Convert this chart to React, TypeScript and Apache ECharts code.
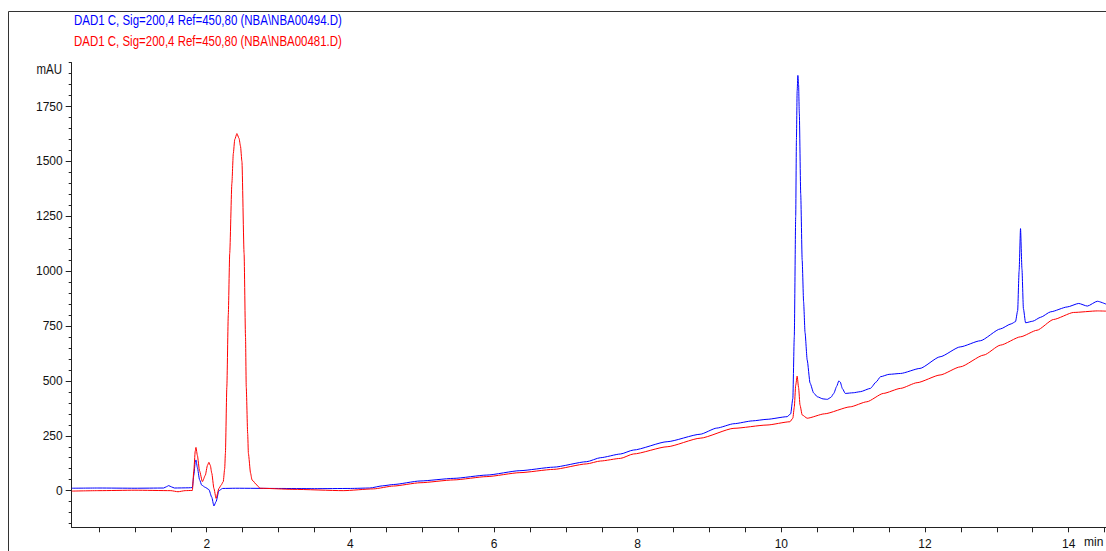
import React, { useEffect, useRef } from "react";
import * as echarts from "echarts";

// Chromatogram traces: [retention time (min), signal (mAU)]
const blueTrace: [number, number][] = [
  [0.12, 11], [0.5, 12], [1.0, 11], [1.4, 12], [1.44, 18], [1.47, 23], [1.51, 17], [1.55, 12], [1.75, 13], [1.8, 14],
  [1.82, 70], [1.84, 130], [1.85, 140], [1.87, 105], [1.9, 50], [1.93, 25], [1.98, 15], [2.03, 5], [2.07, -30],
  [2.1, -70], [2.13, -50], [2.17, 0], [2.22, 10], [2.4, 11], [3.0, 10], [3.5, 9], [4.0, 10],
  [4.27, 12], [4.45, 22], [4.6, 28], [4.97, 44], [5.44, 56], [5.9, 71], [6.36, 91], [6.83, 107],
  [7.29, 132], [7.48, 150], [7.76, 167], [7.94, 185], [8.41, 223], [8.87, 257], [9.1, 285],
  [9.34, 305], [9.6, 318], [9.8, 325], [10.08, 337], [10.13, 350], [10.16, 420], [10.18, 700], [10.2, 1250], [10.21, 1600],
  [10.22, 1820], [10.23, 1892], [10.24, 1850], [10.25, 1720], [10.27, 1350], [10.29, 1050], [10.31, 860], [10.33, 720],
  [10.36, 595], [10.4, 490], [10.45, 445], [10.5, 428], [10.58, 418], [10.64, 416], [10.69, 425], [10.73, 443], [10.77, 475],
  [10.8, 500], [10.82, 495], [10.85, 465], [10.89, 443], [11.0, 446],
  [11.1, 451], [11.24, 466], [11.32, 495], [11.38, 519], [11.5, 530], [11.66, 534], [11.93, 557], [12.21, 610],
  [12.49, 655], [12.77, 683], [13.05, 737], [13.2, 760], [13.26, 770], [13.29, 820], [13.31, 1000], [13.33, 1194],
  [13.35, 1010], [13.37, 830], [13.4, 765], [13.5, 772], [13.61, 790], [13.75, 815], [13.98, 837], [14.14, 853], [14.26, 841], [14.4, 863],
  [14.52, 850],
];

const redTrace: [number, number][] = [
  [0.12, -2], [0.5, 0], [1.0, 2], [1.5, 0], [1.6, -5], [1.7, 0], [1.8, 1], [1.82, 90], [1.84, 180],
  [1.85, 197], [1.87, 160], [1.9, 90], [1.94, 41], [1.98, 70], [2.01, 115], [2.03, 129], [2.05, 115], [2.07, 80], [2.1, 10],
  [2.13, -35], [2.17, 10], [2.2, 25], [2.23, 41], [2.25, 100], [2.26, 170], [2.28, 473], [2.3, 800], [2.32, 1081], [2.35, 1400],
  [2.37, 1536], [2.39, 1600], [2.42, 1627], [2.45, 1605], [2.47, 1570], [2.49, 1500], [2.52, 1081], [2.54, 700], [2.55, 473], [2.57, 260], [2.58, 170], [2.61, 80], [2.63, 49],
  [2.7, 25], [2.74, 11], [3.2, 6], [3.9, 0], [4.32, 8], [4.6, 21], [4.97, 36], [5.44, 49],
  [5.9, 64], [6.36, 82], [6.83, 97], [7.29, 122], [7.48, 135], [7.76, 147], [7.94, 167],
  [8.41, 200], [8.87, 239], [9.34, 284], [9.8, 299], [10.12, 314], [10.16, 330], [10.18, 380], [10.2, 480],
  [10.22, 522], [10.24, 470], [10.26, 390], [10.29, 345], [10.36, 330], [10.6, 350], [10.96, 382], [11.19, 405],
  [11.42, 443], [11.66, 466], [11.89, 492], [12.21, 527], [12.49, 564], [12.82, 618], [13.05, 663],
  [13.33, 701], [13.56, 731], [13.79, 780], [14.07, 812], [14.4, 819], [14.52, 818],
];

const blueName = "DAD1 C, Sig=200,4 Ref=450,80 (NBA\\NBA00494.D)";
const redName = "DAD1 C, Sig=200,4 Ref=450,80 (NBA\\NBA00481.D)";
const yUnit = "mAU";
const xUnit = "min";

const xLabelValues = [2, 4, 6, 8, 10, 12, 14];
const xTickValues = [0.5, 1, 1.5, 2, 2.5, 3, 3.5, 4, 4.5, 5, 5.5, 6, 6.5, 7, 7.5, 8, 8.5, 9, 9.5, 10, 10.5, 11, 11.5, 12, 12.5, 13, 13.5, 14, 14.5];
const yLabelValues = [0, 250, 500, 750, 1000, 1250, 1500, 1750];
const yMinorValues = [-150, -100, -50, 0, 50, 100, 150, 200, 250, 300, 350, 400, 450, 500, 550, 600, 650, 700, 750, 800, 850, 900, 950, 1000, 1050, 1100, 1150, 1200, 1250, 1300, 1350, 1400, 1450, 1500, 1550, 1600, 1650, 1700, 1750, 1800, 1850, 1900, 1950];

const X_MIN = 0.12;
const X_MAX = 14.52;
const Y_MIN = -167;
const Y_MAX = 1950;

const FONT = "'Liberation Sans', Arial, sans-serif";

export default function App() {
  const ref = useRef<HTMLDivElement>(null);
  useEffect(() => {
    if (!ref.current) return;
    const chart = echarts.init(ref.current, undefined, { renderer: "svg" });
    const labelStyle = { color: "#111", fontSize: 12, fontFamily: FONT };
    const narrowText = (text: string, x: number, y: number, fill: string, align = "left") => ({
      type: "text",
      x,
      y,
      scaleX: 0.82,
      style: {
        text,
        fill,
        font: `14px ${FONT}`,
        textAlign: align,
        align,
        textVerticalAlign: "middle",
        verticalAlign: "middle",
      },
    });
    chart.setOption({
      animation: false,
      backgroundColor: "#fff",
      grid: { left: 71.7, right: 0, top: 62.7, bottom: 23.7, containLabel: false, outerBoundsMode: "none" },
      xAxis: {
        type: "value",
        min: X_MIN,
        max: X_MAX,
        axisLine: { onZero: false, lineStyle: { color: "#222", width: 1 } },
        axisTick: { show: true, length: 5, customValues: xTickValues, lineStyle: { color: "#222" } },
        axisLabel: { ...labelStyle, margin: 11, customValues: xLabelValues, formatter: (v: number) => String(v) },
        splitLine: { show: false },
      },
      yAxis: [
        {
          type: "value",
          min: Y_MIN,
          max: Y_MAX,
          axisLine: { show: true, onZero: false, lineStyle: { color: "#222", width: 1 } },
          axisTick: { show: true, length: 6, customValues: yLabelValues, lineStyle: { color: "#222" } },
          axisLabel: { ...labelStyle, margin: 9, customValues: yLabelValues, formatter: (v: number) => String(v) },
          splitLine: { show: false },
        },
        {
          type: "value",
          position: "left",
          offset: 0,
          min: Y_MIN,
          max: Y_MAX,
          axisLine: { show: false, onZero: false },
          axisTick: { show: true, length: 3, customValues: yMinorValues, lineStyle: { color: "#222" } },
          axisLabel: { show: false },
          splitLine: { show: false },
        },
      ],
      series: [
        {
          name: blueName,
          type: "line",
          data: blueTrace,
          showSymbol: false,
          smooth: 0.2,
          smoothMonotone: "x",
          lineStyle: { color: "#0000ff", width: 1 },
          itemStyle: { color: "#0000ff" },
          z: 2,
        },
        {
          name: redName,
          type: "line",
          data: redTrace,
          showSymbol: false,
          smooth: 0.2,
          smoothMonotone: "x",
          lineStyle: { color: "#ff0000", width: 1 },
          itemStyle: { color: "#ff0000" },
          z: 3,
        },
      ],
      graphic: [
        {
          type: "rect",
          shape: { x: 8.5, y: 11.5, width: 1300, height: 700 },
          style: { fill: "none", stroke: "#333", lineWidth: 1 },
          silent: true,
        },
        narrowText(blueName, 74, 20, "#0000ff"),
        narrowText(redName, 74, 41, "#ff0000"),
        narrowText(yUnit, 62, 69, "#111", "right"),
        {
          type: "text",
          x: 1084,
          y: 542,
          style: { text: xUnit, fill: "#111", font: `12px ${FONT}`, textVerticalAlign: "middle", verticalAlign: "middle" },
        },
      ],
    });
    return () => chart.dispose();
  }, []);
  return <div ref={ref} style={{ position: "fixed", left: 0, top: 0, width: 1106, height: 551 }} />;
}
